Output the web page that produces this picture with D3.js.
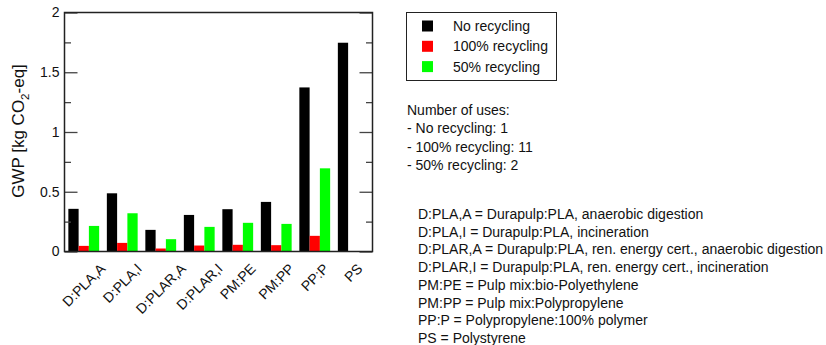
<!DOCTYPE html>
<html>
<head>
<meta charset="utf-8">
<script src="https://cdn.jsdelivr.net/npm/d3@7"></script>
<style>
  html, body { margin: 0; padding: 0; background: #fff; }
  svg { display: block; font-family: "Liberation Sans", Arial, Helvetica, sans-serif; }
</style>
</head>
<body>
<svg id="chart" width="826" height="345"></svg>
<script>
// Packaging alternatives (x categories)
const categories = ["D:PLA,A", "D:PLA,I", "D:PLAR,A", "D:PLAR,I", "PM:PE", "PM:PP", "PP:P", "PS"];

// GWP per alternative, kg CO2-eq
const noRecycling      = [0.357, 0.487, 0.181, 0.306, 0.354, 0.415, 1.373, 1.747];
const fullRecycling    = [0.047, 0.072, 0.025, 0.050, 0.056, 0.053, 0.131, 0];
const halfRecycling    = [0.214, 0.320, 0.103, 0.206, 0.240, 0.231, 0.696, 0];

const seriesNames  = ["No recycling", "100% recycling", "50% recycling"];
const seriesColors = ["#000000", "#ff0000", "#00ff00"];
const seriesValues = [noRecycling, fullRecycling, halfRecycling];

const yMajorTicks = [0, 0.5, 1, 1.5, 2];
const yTickLabels = ["0", "0.5", "1", "1.5", "2"];
const yMinorTicks = [0.25, 0.75, 1.25, 1.75];

const usesLines = [
  "Number of uses:",
  "- No recycling: 1",
  "- 100% recycling: 11",
  "- 50% recycling: 2"
];

const abbreviations = [
  "D:PLA,A = Durapulp:PLA, anaerobic digestion",
  "D:PLA,I = Durapulp:PLA, incineration",
  "D:PLAR,A = Durapulp:PLA, ren. energy cert., anaerobic digestion",
  "D:PLAR,I = Durapulp:PLA, ren. energy cert., incineration",
  "PM:PE = Pulp mix:bio-Polyethylene",
  "PM:PP = Pulp mix:Polypropylene",
  "PP:P = Polypropylene:100% polymer",
  "PS = Polystyrene"
];

const svg = d3.select("#chart");
const plot = { left: 64.5, right: 372.5, top: 12.5, bottom: 251.5 };

const x = d3.scaleBand()
  .domain(categories)
  .range([plot.left, plot.right])
  .paddingInner(0.2)
  .paddingOuter(0.1);

const xs = d3.scaleBand()
  .domain(d3.range(seriesNames.length))
  .range([0, x.bandwidth()]);

const y = d3.scaleLinear().domain([0, 2]).range([plot.bottom, plot.top]);

// Bars
const groups = svg.append("g").selectAll("g")
  .data(categories)
  .join("g")
  .attr("transform", d => `translate(${x(d)},0)`);

groups.selectAll("rect")
  .data((d, i) => seriesValues.map((vals, s) => ({ s, v: vals[i] })))
  .join("rect")
  .attr("x", d => xs(d.s))
  .attr("width", xs.bandwidth())
  .attr("y", d => y(d.v))
  .attr("height", d => y(0) - y(d.v))
  .attr("fill", d => seriesColors[d.s]);

// Inward ticks, left and right
const tickColor = "#444";
function styleTicks(g) {
  g.select(".domain").remove();
  g.selectAll(".tick line").attr("stroke", tickColor).attr("stroke-width", 1.3);
}

const gl = svg.append("g").attr("transform", `translate(${plot.left},0)`)
  .call(d3.axisLeft(y).tickValues(yMajorTicks).tickSize(-13)
    .tickFormat((d, i) => yTickLabels[i]).tickPadding(5));
styleTicks(gl);
gl.selectAll(".tick text").attr("font-size", 14).attr("fill", "#111")
  .attr("font-family", "Liberation Sans, Arial, sans-serif");

styleTicks(svg.append("g").attr("transform", `translate(${plot.left},0)`)
  .call(d3.axisLeft(y).tickValues(yMinorTicks).tickSize(-6.5).tickFormat("")));
styleTicks(svg.append("g").attr("transform", `translate(${plot.right},0)`)
  .call(d3.axisRight(y).tickValues(yMajorTicks).tickSize(-13).tickFormat("")));
styleTicks(svg.append("g").attr("transform", `translate(${plot.right},0)`)
  .call(d3.axisRight(y).tickValues(yMinorTicks).tickSize(-6.5).tickFormat("")));

// Frame
svg.append("rect")
  .attr("x", plot.left).attr("y", plot.top)
  .attr("width", plot.right - plot.left).attr("height", plot.bottom - plot.top)
  .attr("fill", "none").attr("stroke", "#222").attr("stroke-width", 1.5);

// Category labels, rotated 45 degrees
const xl = svg.append("g").selectAll("text")
  .data(categories)
  .join("text")
  .attr("font-size", 14)
  .attr("fill", "#111")
  .attr("text-anchor", "middle")
  .attr("dominant-baseline", "central")
  .text(d => d);
xl.attr("transform", function(d) {
  const L = this.getComputedTextLength();
  const cx = x(d) + x.bandwidth() / 2;
  const cy = 266 + L * Math.SQRT1_2 / 2;
  return `translate(${cx},${cy}) rotate(-45)`;
});

// Y axis title
const yt = svg.append("text")
  .attr("transform", `translate(24,131) rotate(-90)`)
  .attr("text-anchor", "middle")
  .attr("font-size", 17)
  .attr("fill", "#111");
yt.append("tspan").text("GWP [kg CO");
yt.append("tspan").attr("font-size", 11.5).attr("dy", 5).text("2");
yt.append("tspan").attr("dy", -5).text("-eq]");

// Legend
const lg = svg.append("g");
lg.append("rect")
  .attr("x", 406.5).attr("y", 12.5).attr("width", 150).attr("height", 68)
  .attr("fill", "#fff").attr("stroke", "#222").attr("stroke-width", 1);
seriesNames.forEach((name, i) => {
  const cy = 26 + i * 20.3;
  lg.append("rect")
    .attr("x", 422).attr("y", cy - 5.5).attr("width", 11).attr("height", 11)
    .attr("fill", seriesColors[i]);
  lg.append("text")
    .attr("x", 453).attr("y", cy + 5)
    .attr("font-size", 14).attr("fill", "#111")
    .text(name);
});

// Number of uses note
svg.append("g").selectAll("text")
  .data(usesLines)
  .join("text")
  .attr("x", 407)
  .attr("y", (d, i) => 115 + i * 18.3)
  .attr("font-size", 14)
  .attr("fill", "#111")
  .text(d => d);

// Abbreviation key
svg.append("g").selectAll("text")
  .data(abbreviations)
  .join("text")
  .attr("x", 418)
  .attr("y", (d, i) => 219 + i * 17.7)
  .attr("font-size", 14)
  .attr("fill", "#111")
  .text(d => d);
</script>
</body>
</html>
